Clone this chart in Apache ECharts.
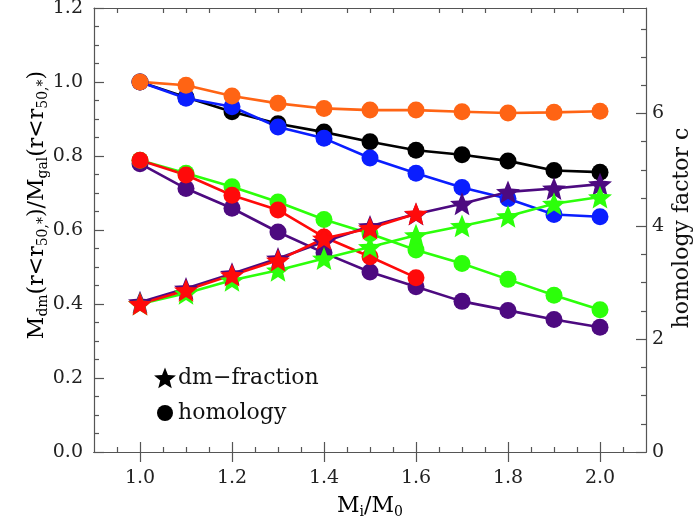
<!DOCTYPE html>
<html>
<head>
<meta charset="utf-8">
<script src="https://cdn.jsdelivr.net/npm/echarts@6/dist/echarts.min.js"></script>
<style>
  html, body { margin: 0; padding: 0; background: #fff; }
  #chart { width: 695px; height: 521px; }
</style>
</head>
<body>
<div id="chart"></div>
<script>
// M_i/M_0
const xValues = [1.0, 1.1, 1.2, 1.3, 1.4, 1.5, 1.6, 1.7, 1.8, 1.9, 2.0];

// homology factor c (right axis), circles
const cBlack  = [6.56, 6.29, 6.03, 5.82, 5.67, 5.50, 5.35, 5.27, 5.16, 4.99, 4.96];
const cBlue   = [6.56, 6.27, 6.12, 5.76, 5.56, 5.21, 4.94, 4.69, 4.49, 4.21, 4.17];
const cOrange = [6.56, 6.50, 6.31, 6.18, 6.09, 6.06, 6.06, 6.03, 6.01, 6.02, 6.04];
const cPurple = [5.11, 4.67, 4.32, 3.90, 3.53, 3.19, 2.93, 2.67, 2.51, 2.35, 2.21];
const cGreen  = [5.17, 4.94, 4.70, 4.43, 4.12, 3.87, 3.58, 3.34, 3.06, 2.78, 2.52];
const cRed    = [5.17, 4.91, 4.55, 4.29, 3.81, 3.46, 3.09];

// dm-fraction (left axis), stars
const fPurple = [0.405, 0.442, 0.482, 0.523, 0.568, 0.610, 0.643, 0.671, 0.703, 0.712, 0.724];
const fGreen  = [0.400, 0.429, 0.464, 0.491, 0.523, 0.554, 0.586, 0.611, 0.637, 0.671, 0.689];
const fRed    = [0.400, 0.437, 0.478, 0.518, 0.577, 0.605, 0.644];

// tick values
const xMajor = [1.0, 1.2, 1.4, 1.6, 1.8, 2.0];
const xMinor = [0.95, 1.05, 1.1, 1.15, 1.25, 1.3, 1.35, 1.45, 1.5, 1.55, 1.65, 1.7, 1.75, 1.85, 1.9, 1.95, 2.05];
const cMajor = [0, 2, 4, 6];
const cMinor = [0.5, 1, 1.5, 2.5, 3, 3.5, 4.5, 5, 5.5, 6.5, 7, 7.5];

const COL = {
  black: '#000000',
  blue: '#0a1eff',
  orange: '#ff6414',
  purple: '#4d0a80',
  green: '#2cff0a',
  red: '#ff0a0a'
};

const FONT = 'DejaVu Serif';
const AXC = '#555';
const STAR = 'path://M50 0 L62.93 32.2 L97.55 34.55 L70.92 56.8 L79.39 90.45 L50 72 L20.61 90.45 L29.08 56.8 L2.45 34.55 L37.07 32.2 Z';

function pts(ys) {
  return ys.map((y, i) => [xValues[i], y]);
}

function circles(name, ys, color) {
  return {
    name: name, type: 'line', yAxisIndex: 1, data: pts(ys),
    symbol: 'circle', symbolSize: 17,
    lineStyle: { color: color, width: 2.6 },
    itemStyle: { color: color, borderWidth: 0 },
    emphasis: { disabled: true }
  };
}

function stars(name, ys, color) {
  return {
    name: name, type: 'line', yAxisIndex: 0, data: pts(ys),
    symbol: STAR, symbolSize: 24, symbolKeepAspect: true,
    lineStyle: { color: color, width: 2.6 },
    itemStyle: { color: color, borderWidth: 0 },
    emphasis: { disabled: true }
  };
}

const tickLine = { color: AXC, width: 1.2 };
const labelStyle = { fontFamily: FONT, fontSize: 19, color: '#222' };

function xAxisDef(pos, values, len, withLabel) {
  return {
    type: 'value', position: pos, min: 0.9, max: 2.1,
    axisLine: { show: true, lineStyle: tickLine },
    axisTick: { show: true, inside: true, length: len, customValues: values, lineStyle: tickLine },
    axisLabel: withLabel
      ? Object.assign({ show: true, margin: 17, customValues: values, formatter: v => v.toFixed(1) }, labelStyle)
      : { show: false },
    splitLine: { show: false }
  };
}

const sub = { fontFamily: FONT, fontSize: 14, color: '#111', verticalAlign: 'bottom', lineHeight: 13 };
const main = { fontFamily: FONT, fontSize: 22, color: '#111', lineHeight: 26 };

function starPoints(cx, cy, R, r) {
  const p = [];
  for (let k = 0; k < 10; k++) {
    const a = -Math.PI / 2 + k * Math.PI / 5;
    const rr = k % 2 === 0 ? R : r;
    p.push([cx + rr * Math.cos(a), cy + rr * Math.sin(a)]);
  }
  return p;
}

const chart = echarts.init(document.getElementById('chart'));
chart.setOption({
  animation: false,
  backgroundColor: '#fff',
  grid: { left: 94, right: 49, top: 8, bottom: 69, outerBoundsMode: 'none' },
  xAxis: [
    xAxisDef('bottom', xMajor, 10, true),
    xAxisDef('top', xMajor, 10, false),
    xAxisDef('bottom', xMinor, 5, false),
    xAxisDef('top', xMinor, 5, false)
  ],
  yAxis: [
    {
      type: 'value', position: 'left', min: 0, max: 1.2, interval: 0.2,
      axisLine: { show: true, lineStyle: tickLine },
      axisTick: { show: true, inside: true, length: 10, lineStyle: tickLine },
      minorTick: { show: true, splitNumber: 4, length: 5, lineStyle: tickLine },
      axisLabel: Object.assign({ margin: 11, formatter: v => v.toFixed(1) }, labelStyle),
      splitLine: { show: false }
    },
    {
      type: 'value', position: 'right', min: 0, max: 7.87,
      axisLine: { show: true, lineStyle: tickLine },
      axisTick: { show: true, inside: true, length: 10, customValues: cMajor, lineStyle: tickLine },
      axisLabel: Object.assign({ margin: 6, customValues: cMajor, formatter: v => String(v) }, labelStyle),
      splitLine: { show: false }
    },
    {
      type: 'value', position: 'right', min: 0, max: 7.87,
      axisLine: { show: false },
      axisTick: { show: true, inside: true, length: 5, customValues: cMinor, lineStyle: tickLine },
      axisLabel: { show: false },
      splitLine: { show: false }
    }
  ],
  series: [
    circles('black homology', cBlack, COL.black),
    circles('blue homology', cBlue, COL.blue),
    circles('orange homology', cOrange, COL.orange),
    circles('purple homology', cPurple, COL.purple),
    circles('green homology', cGreen, COL.green),
    circles('red homology', cRed, COL.red),
    stars('purple dm', fPurple, COL.purple),
    stars('green dm', fGreen, COL.green),
    stars('red dm', fRed, COL.red)
  ],
  graphic: [
    {
      type: 'text', x: 37, y: 205, rotation: Math.PI / 2,
      style: {
        text: '{n|M}{s|dm}{n|(r<r}{s|50,*}{n|)/M}{s|gal}{n|(r<r}{s|50,*}{n|)}',
        rich: { n: main, s: sub }, align: 'center', verticalAlign: 'middle'
      }
    },
    {
      type: 'text', x: 682, y: 228, rotation: Math.PI / 2,
      style: {
        text: 'homology factor c', fontFamily: FONT, fontSize: 22, fill: '#111',
        align: 'center', verticalAlign: 'middle'
      }
    },
    {
      type: 'text', x: 370, y: 506,
      style: {
        text: '{n|M}{s|i}{n|/M}{s|0}',
        rich: { n: main, s: sub }, align: 'center', verticalAlign: 'middle'
      }
    },
    {
      type: 'polygon',
      shape: { points: starPoints(165, 379, 11.5, 5) },
      style: { fill: '#000' }
    },
    {
      type: 'text', x: 178, y: 378,
      style: { text: 'dm−fraction', fontFamily: FONT, fontSize: 22, fill: '#111', align: 'left', verticalAlign: 'middle' }
    },
    {
      type: 'circle',
      shape: { cx: 165, cy: 413, r: 8 },
      style: { fill: '#000' }
    },
    {
      type: 'text', x: 178, y: 413,
      style: { text: 'homology', fontFamily: FONT, fontSize: 22, fill: '#111', align: 'left', verticalAlign: 'middle' }
    }
  ]
});
</script>
</body>
</html>
